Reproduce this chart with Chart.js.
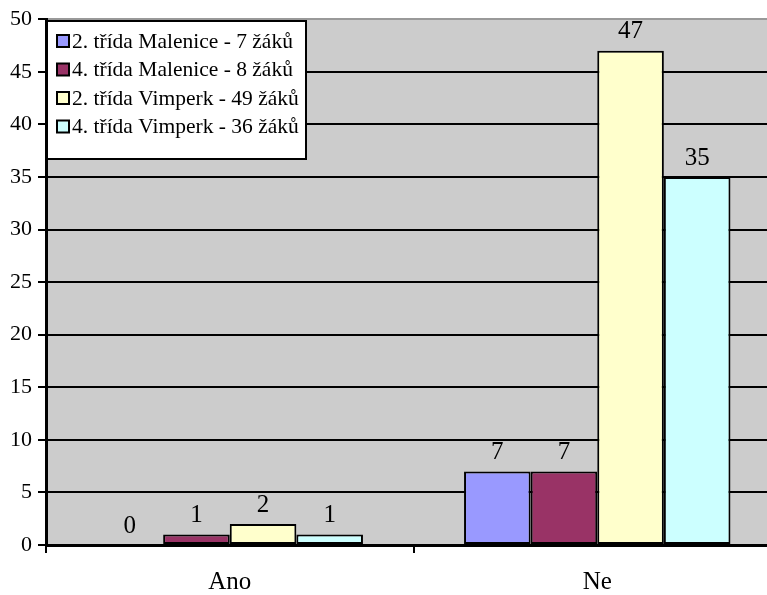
<!DOCTYPE html>
<html>
<head>
<meta charset="utf-8">
<script src="https://cdn.jsdelivr.net/npm/chart.js@4.4.1/dist/chart.umd.min.js"></script>
<style>
  html, body { margin: 0; padding: 0; background: #fff; overflow: hidden; }
  .wrap { width: 767px; height: 595px; overflow: hidden; }
  .box { width: 781px; height: 595px; }
</style>
</head>
<body>
<div class="wrap"><div class="box"><canvas id="myChart"></canvas></div></div>
<script>
const categories = ['Ano', 'Ne'];
const seriesNames = [
  '2. třída Malenice - 7 žáků',
  '4. třída Malenice - 8 žáků',
  '2. třída Vimperk - 49 žáků',
  '4. třída Vimperk - 36 žáků'
];
const malenice2 = [0, 7];
const malenice4 = [1, 7];
const vimperk2 = [2, 47];
const vimperk4 = [1, 35];
const colors = ['#9999ff', '#993366', '#ffffcc', '#ccffff'];

const serif = "'Liberation Serif', 'Times New Roman', serif";

// pozadí plochy grafu
const plotBg = {
  id: 'plotBg',
  beforeDraw(chart) {
    const { ctx, chartArea: a } = chart;
    ctx.save();
    ctx.fillStyle = '#cccccc';
    ctx.fillRect(a.left, a.top, a.right - a.left, a.bottom - a.top);
    ctx.restore();
  }
};

// popisky hodnot nad sloupci
const valueLabels = {
  id: 'valueLabels',
  afterDatasetsDraw(chart) {
    const ctx = chart.ctx;
    ctx.save();
    ctx.font = '25px ' + serif;
    ctx.fillStyle = '#000';
    ctx.textAlign = 'center';
    ctx.textBaseline = 'middle';
    chart.data.datasets.forEach((ds, i) => {
      chart.getDatasetMeta(i).data.forEach((bar, j) => {
        ctx.fillText(String(ds.data[j]), bar.x, bar.y - 19);
      });
    });
    ctx.restore();
  }
};

// legenda uvnitř grafu
const boxLegend = {
  id: 'boxLegend',
  afterDraw(chart) {
    const ctx = chart.ctx;
    const x = 47, y = 21, w = 259, h = 138;
    ctx.save();
    ctx.fillStyle = '#fff';
    ctx.fillRect(x, y, w, h);
    ctx.strokeStyle = '#000';
    ctx.lineWidth = 2;
    ctx.strokeRect(x, y, w, h);
    ctx.font = '21.5px ' + serif;
    ctx.textBaseline = 'middle';
    chart.data.datasets.forEach((ds, i) => {
      const cy = 41 + i * 28.5;
      ctx.fillStyle = ds.backgroundColor;
      ctx.fillRect(57, cy - 6, 12, 12);
      ctx.lineWidth = 2;
      ctx.strokeRect(57, cy - 6, 12, 12);
      ctx.fillStyle = '#000';
      ctx.fillText(ds.label, 72, cy + 1);
    });
    ctx.restore();
  }
};

const datasets = [malenice2, malenice4, vimperk2, vimperk4].map((d, i) => ({
  label: seriesNames[i],
  data: d,
  backgroundColor: colors[i],
  borderColor: '#000',
  borderWidth: 2,
  borderSkipped: false,
  categoryPercentage: 0.725,
  barPercentage: 1
}));

new Chart(document.getElementById('myChart'), {
  type: 'bar',
  data: { labels: categories, datasets: datasets },
  plugins: [plotBg, valueLabels, boxLegend],
  options: {
    responsive: true,
    maintainAspectRatio: false,
    animation: false,
    layout: { padding: { top: 19, right: 0, left: 0, bottom: 0 } },
    plugins: { legend: { display: false }, tooltip: { enabled: false } },
    scales: {
      x: {
        grid: { offset: true, drawOnChartArea: false, tickLength: 8, tickColor: '#000', lineWidth: 2 },
        border: { color: '#000', width: 3 },
        ticks: { color: '#000', font: { family: serif, size: 25 }, padding: 14 },
        afterFit(scale) { scale.height = 50; }
      },
      y: {
        min: 0,
        max: 50,
        ticks: { stepSize: 5, color: '#000', font: { family: serif, size: 22 }, padding: 6 },
        grid: {
          color: c => c.tick && c.tick.value === 50 ? '#999999' : '#000',
          lineWidth: 2,
          tickLength: 8,
          tickColor: '#000'
        },
        border: { color: '#000', width: 3 },
        afterFit(scale) { scale.width = 46; }
      }
    }
  }
});
</script>
</body>
</html>
